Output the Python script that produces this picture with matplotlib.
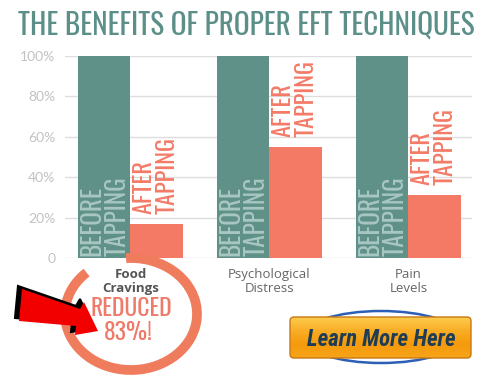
import numpy as np
import matplotlib
matplotlib.use('Agg')
import matplotlib.pyplot as plt
from matplotlib.patches import Arc, Ellipse, FancyBboxPatch, Polygon
from matplotlib.colors import LinearSegmentedColormap

categories = ['Food\nCravings', 'Psychological\nDistress', 'Pain\nLevels']
before = [100, 100, 100]
after = [17, 55, 31]
yticks = [0, 20, 40, 60, 80, 100]
ytick_labels = ['0', '20%', '40%', '60%', '80%', '100%']

teal = '#5F9189'
coral = '#F47A66'
narrow = 'Oswald'

fig = plt.figure(figsize=(5, 3.85), dpi=100)
fig.patch.set_facecolor('white')

ax = fig.add_axes([65 / 500, 1 - 258 / 385, 407 / 500, 202 / 385])
x = np.arange(len(categories))
w = 0.378
ax.bar(x - w / 2, before, w, color=teal, zorder=2)
ax.bar(x + w / 2, after, w, color=coral, zorder=2)

for i in range(len(categories)):
    ax.text(x[i] - w / 2 + 0.005, 1, 'BEFORE\nTAPPING', rotation=90, ha='center', va='bottom',
            multialignment='left', family=narrow, fontsize=18, color='#A9C7C2',
            linespacing=1.0, zorder=3)
    ax.text(x[i] + w / 2 - 0.01, after[i] + 5, 'AFTER\nTAPPING', rotation=90, ha='center', va='bottom',
            multialignment='left', family=narrow, fontsize=17.5, color=coral,
            linespacing=1.0, zorder=3)

ax.set_xlim(-0.471, 2.457)
ax.set_ylim(0, 100)
ax.set_yticks(yticks)
ax.set_yticklabels(ytick_labels, family='Lato', fontsize=10, color='#C2C2C2')
ax.set_xticks(x)
ax.set_xticklabels(categories, family='Open Sans', fontsize=9.5, color='#666666', linespacing=1.15)
ax.get_xticklabels()[0].set_fontweight('bold')
ax.get_xticklabels()[0].set_color('#555555')
ax.tick_params(axis='both', length=0, pad=7)
ax.grid(axis='y', color='#DDDDDD', lw=1, zorder=0)
for s in ax.spines.values():
    s.set_visible(False)

fig.text(0.492, 1 - 25 / 385, 'THE BENEFITS OF PROPER EFT TECHNIQUES', ha='center', va='center',
         family=narrow, fontsize=21, color='#5B8F88')

# overlay in pixel coordinates
ov = fig.add_axes([0, 0, 1, 1])
ov.set_xlim(0, 500)
ov.set_ylim(385, 0)
ov.axis('off')
ov.patch.set_alpha(0)

ov.add_patch(Arc((131, 314), 132, 112, theta1=-95, theta2=223, color='#F07C5E', lw=7))
ov.text(131, 309, 'REDUCED', ha='center', va='center', family=narrow, fontsize=17, color='#EE7A6A')
ov.text(128, 332, '83%!', ha='center', va='center', family=narrow, fontsize=17, color='#EE7A6A')

arrow = [(22, 289), (80, 309), (84, 302), (98, 331), (75, 335), (76, 326), (19, 321)]
shadow = [(px - 4, py - 3) for px, py in arrow]
ov.add_patch(Polygon(shadow, closed=True, facecolor='black', edgecolor='black', lw=1.5, zorder=4))
ov.add_patch(Polygon(arrow, closed=True, facecolor='#F20000', edgecolor='none', zorder=5))

ov.add_patch(Ellipse((381, 337), 158, 52, fill=False, edgecolor='#2C5FB5', lw=1.8, zorder=4))
button = FancyBboxPatch((290, 317), 181, 41, boxstyle='round,pad=0,rounding_size=4',
                        facecolor='none', edgecolor='#C87812', lw=1, zorder=7)
ov.add_patch(button)
grad = LinearSegmentedColormap.from_list('btn', ['#FDCB4E', '#F9AD25', '#F59A0C', '#F7A418'])
img = ov.imshow(np.linspace(0, 1, 50).reshape(-1, 1), cmap=grad, aspect='auto',
                extent=(290, 471, 358, 317), zorder=5)
img.set_clip_path(button)
ov.set_xlim(0, 500)
ov.set_ylim(385, 0)
ov.text(381, 339, 'Learn More Here', ha='center', va='center', fontsize=16.5, fontweight='bold',
        style='italic', family='Roboto Condensed', color='#1E3D55', zorder=8)

fig.savefig('out.png', dpi=100)
